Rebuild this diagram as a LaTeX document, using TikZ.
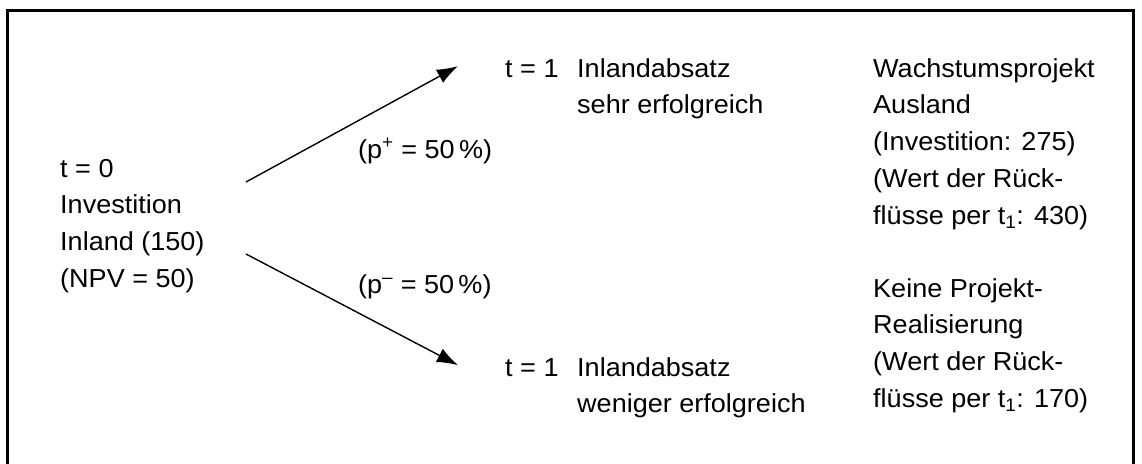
\documentclass[tikz,border=0pt]{standalone}
\usepackage{fontspec}
\setmainfont[FakeStretch=1.04]{Liberation Sans}
\usetikzlibrary{arrows.meta,positioning}
\tikzset{
    % multi-line nodes sit on the baseline of their last line
    txt/.style={anchor=base west, inner sep=0pt, align=left, font=\fontsize{26}{36.8}\selectfont},
    branch/.style={line width=1.4pt, -{Latex[length=21pt,width=15pt]}}
}

\begin{document}
\begin{tikzpicture}[x=1pt,y=-1pt]
    \useasboundingbox (0,0) rectangle (1142,463);
    \clip (0,0) rectangle (1142,463);

    % draw the frame
    \draw[line width=2.2pt] (7.5,480) -- (7.5,10.5) -- (1133.5,10.5) -- (1133.5,480);

    % the starting point
    \node[txt] (t0) at (60,287.4) {t = 0\\Investition\\Inland (150)\\(NPV = 50)};

    % the two outcomes at t = 1
    \node[txt] (t1up) at (505,77) {t = 1};
    \node[txt] (upcase) at (577,113.8) {Inlandabsatz\\sehr erfolgreich};
    \node[txt] (t1down) at (505,376) {t = 1};
    \node[txt] (downcase) at (577,412.8) {Inlandabsatz\\weniger erfolgreich};

    % what follows each outcome
    \node[txt] (grow) at (873,224.2) {Wachstumsprojekt\\Ausland\\(Investition: 275)\\(Wert der R\"uck-\\fl\"usse per t\textsubscript{1}: 430)};
    \node[txt] (nogrow) at (873,407.4) {Keine Projekt-\\Realisierung\\(Wert der R\"uck-\\fl\"usse per t\textsubscript{1}: 170)};

    % draw the branches
    \coordinate (upstart) at (246,182);
    \coordinate (downstart) at (246,254);
    \coordinate (uptip) at ([xshift=-47pt,yshift=2pt]t1up.west);
    \coordinate (downtip) at ([xshift=-47pt,yshift=2pt]t1down.west);
    \draw[branch] (upstart) -- (uptip);
    \draw[branch] (downstart) -- (downtip);

    % label the probabilities
    \node[txt] (pup) at (358,158) {(p\textsuperscript{+} = 50\,\%)};
    \node[txt] (pdown) at (358,293) {(p\textsuperscript{--} = 50\,\%)};
\end{tikzpicture}
\end{document}
